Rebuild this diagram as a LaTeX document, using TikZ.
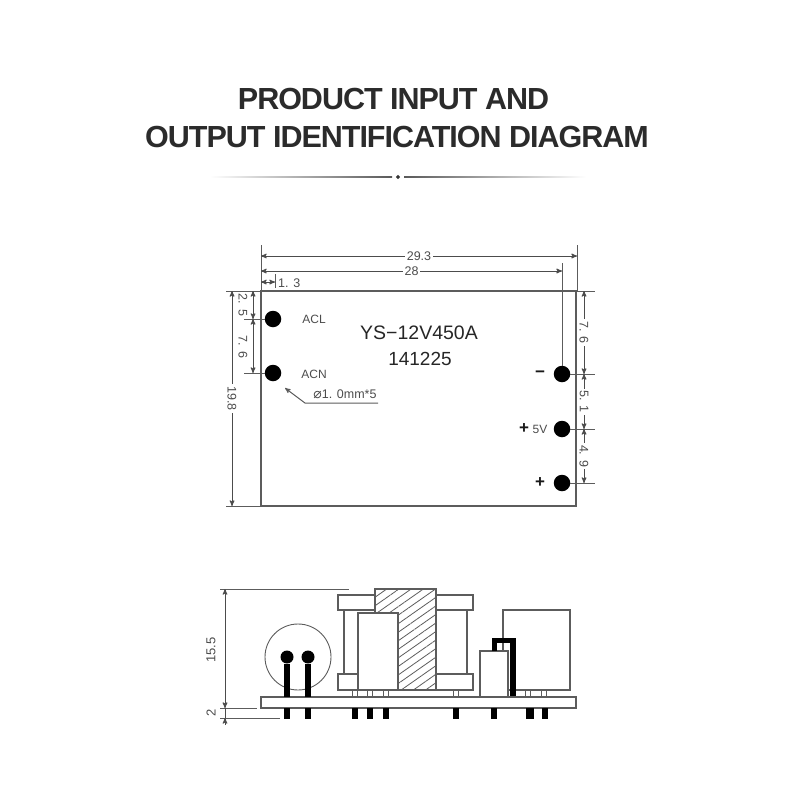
\documentclass[tikz,border=0pt]{standalone}
\usepackage{xcolor}
\usepackage{fontspec}
\setmainfont{Liberation Sans}
\newfontfamily\symfont{DejaVu Sans}
\newfontfamily\titlefont[LetterSpace=-3.3]{Liberation Sans Bold}
\usetikzlibrary{arrows, positioning, shapes.geometric, patterns.meta}
\definecolor{inkgray}{HTML}{5C5C5C}
\definecolor{titlegray}{HTML}{2B2B2B}
\newcommand{\sz}[1]{\fontsize{#1}{#1}\selectfont}

\begin{document}
\begin{tikzpicture}[x=1pt, y=-1pt,
			>=stealth',
			outline/.style={draw=inkgray, line width=1.1pt},
			extline/.style={draw=inkgray, line width=1pt},
			dimline/.style={<->, draw=black!70, line width=1pt},
			dimtext/.style={fill=white, inner sep=2pt, text=black!70, font=\sz{12.5}},
			pad/.style={circle, fill=black, inner sep=0pt, minimum size=16.5pt},
			pinhead/.style={circle, fill=black, inner sep=0pt, minimum size=13pt},
			pin/.style={draw=black, line width=6pt},
			leg/.style={outline, fill=white, line width=0.9pt},
			tail/.style={fill=black},
			tag/.style={text=black!70, font=\sz{12}},
			sign/.style={text=black!90, font=\bfseries\sz{17}}]

			\useasboundingbox (0,0) rectangle (800,800);

			% title
			\node (title1) at (393.5,99) {\color{titlegray}\titlefont\sz{30.5}PRODUCT INPUT AND};
			\node (title2) at (397,137) {\color{titlegray}\titlefont\sz{30.5}OUTPUT IDENTIFICATION DIAGRAM};
			\shade[left color=white, right color=black!65] (210,176.4) rectangle (392,177.6);
			\shade[left color=black!65, right color=white] (404,176.4) rectangle (586,177.6);
			\node[diamond, fill=black!80, inner sep=0pt, minimum size=4.5pt] (gem) at (398,177) {};

			% top view
			\draw[outline] (261,291) rectangle (576,506);
			\node[pad] (acl) at (273,319) {};
			\node[pad] (acn) at (273,373) {};
			\node[pad] (minus) at (562,374) {};
			\node[pad] (five) at (562,429) {};
			\node[pad] (plus) at (562,483) {};

			\node[tag] (acltag) at (314,319) {ACL};
			\node[tag] (acntag) at (314,374) {ACN};
			\node[text=black!85, font=\sz{19.5}] (model) at (419,333) {YS−12V450A};
			\node[text=black!85, font=\sz{19}] (batch) at (420,359) {141225};
			\node[sign] (minustag) at (540,374) {−};
			\node[sign] (plusfive) at (524,429) {+};
			\node[tag] (fivetag) at (540,429) {5V};
			\node[sign] (plustag) at (540,483) {+};

			% hole note
			\coordinate (noteend) at (378,403);
			\coordinate (noteknee) at (305,403);
			\coordinate (notetip) at (285,388);
			\draw[->, extline] (noteend) -- (noteknee) -- (notetip);
			\node[tag, font=\sz{12.5}, inner sep=0pt] (note) at (345,394) {{\symfont\sz{14}⌀}1. 0mm*5};

			% widths
			\draw[extline] (261,245) -- (261,291);
			\draw[extline] (577,245) -- (577,291);
			\draw[extline] (562,263) -- (minus);
			\draw[extline] (275,274) -- (275,288);
			\draw[dimline] (261,256) -- node[dimtext] {29.3} (577,256);
			\draw[dimline] (261,271) -- node[dimtext] {28} (562,271);
			\draw[dimline] (261,282) -- (275,282);
			\node[dimtext, fill=none, inner sep=0pt, anchor=west] (short) at (278,283) {1. 3};

			% left heights
			\draw[extline] (226,291) -- (261,291);
			\draw[extline] (226,506) -- (261,506);
			\draw[extline] (244,319) -- (acl);
			\draw[extline] (244,373) -- (acn);
			\draw[dimline] (232,291) -- node[dimtext, rotate=-90] {19.8} (232,506);
			\draw[dimline] (253,291) -- (253,319);
			\draw[dimline] (253,319) -- (253,373);
			\node[dimtext, fill=none, inner sep=0pt, rotate=-90] (topgap) at (243,305) {2. 5};
			\node[dimtext, fill=none, inner sep=0pt, rotate=-90] (padgap) at (243,347) {7. 6};

			% right heights
			\draw[extline] (576,291) -- (595,291);
			\draw[extline] (minus) -- (595,374);
			\draw[extline] (five) -- (595,429);
			\draw[extline] (plus) -- (595,483);
			\draw[dimline] (584,291) -- node[dimtext, rotate=-90] {7. 6} (584,374);
			\draw[dimline] (584,374) -- node[dimtext, rotate=-90] {5. 1} (584,429);
			\draw[dimline] (584,429) -- node[dimtext, rotate=-90] {4. 9} (584,483);

			% side view
			\draw[outline, line width=0.9pt] (298,657) circle (33);
			\draw[outline] (344,610) rectangle (467,674);
			\draw[outline, fill=white] (338,595) rectangle (473,610);
			\draw[outline, fill=white] (338,674) rectangle (473,690);
			\fill[white] (375,589) rectangle (436,690);
			\draw[outline, pattern={Lines[angle=35, distance=7pt, line width=0.8pt]}, pattern color=inkgray] (375,589) rectangle (436,690);
			\draw[outline, fill=white] (358,613) rectangle (398,690);
			\draw[outline] (503,610) rectangle (570,690);
			\foreach \x in {355,370,386,456,508,528,544}
				\draw[leg] (\x-2.5,690) rectangle (\x+2.5,697);
			\draw[outline, fill=white] (480,651) rectangle (508,697);
			\draw[line width=5.5pt, black] (494.5,651) -- (494.5,640.5) -- (513,640.5) -- (513,697);

			\node[pinhead] (headl) at (287,657) {};
			\node[pinhead] (headr) at (308,657) {};
			\draw[outline, fill=white] (261,697) rectangle (576,708);
			\draw[pin] (headl) -- (287,697);
			\draw[pin] (headr) -- (308,697);
			\foreach \x/\w in {287/5.5,308/5.5,355/5.5,370/5.5,386/5.5,456/5.5,494/5.5,529.5/8,545/5.5}
				\fill[tail] (\x-\w/2,708) rectangle (\x+\w/2,719);

			% side view heights
			\draw[extline] (220,589) -- (349,589);
			\draw[extline] (220,708) -- (257,708);
			\draw[extline] (220,718) -- (280,718);
			\draw[dimline] (225,589) -- (225,708);
			\draw[->, draw=black!70, line width=1pt] (225,725) -- (225,718);
			\draw[draw=black!70, line width=1pt] (225,708) -- (225,718);
			\node[text=black!70, font=\sz{13}, rotate=90] (tall) at (211,650) {15.5};
			\node[text=black!70, font=\sz{13}, rotate=90] (thick) at (211,713) {2};
		\end{tikzpicture}
\end{document}
